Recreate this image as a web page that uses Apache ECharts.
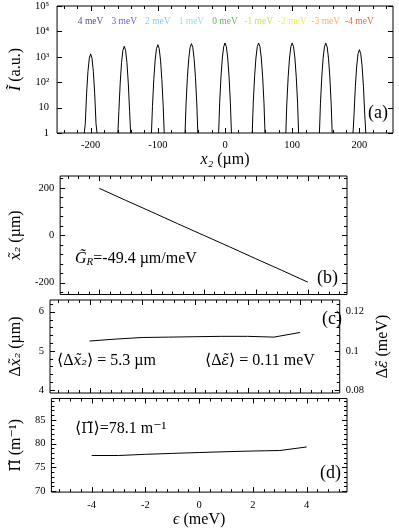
<!DOCTYPE html>
<html>
<head>
<meta charset="utf-8">
<script src="https://cdn.jsdelivr.net/npm/echarts@6/dist/echarts.min.js"></script>
<style>
  html, body { margin: 0; padding: 0; background: #fff; }
  #chart { width: 399px; height: 529px; }
</style>
</head>
<body>
<div id="chart"></div>
<script>
// panel (a): spectra of the pulses, one peak per energy
const peakCenters = [-200, -150, -100, -50, 0, 50, 100, 150, 200];
const peakNames = ['4 meV', '3 meV', '2 meV', '1 meV', '0 meV', '-1 meV', '-2 meV', '-3 meV', '-4 meV'];
const peakOffsets = [-9.5, -8, -6, -4, -2, 0, 2, 4, 6, 8, 9.5];
const peakValues = [
  [1, 2.3, 37, 267, 875, 1300, 875, 267, 37, 2.3, 1],
  [1, 7.2, 94, 595, 1800, 2600, 1800, 595, 94, 7.2, 1],
  [1, 11, 129, 740, 2115, 3000, 2115, 740, 129, 11, 1],
  [1, 14, 154, 845, 2346, 3300, 2346, 845, 154, 14, 1],
  [1, 15, 163, 896, 2489, 3500, 2489, 896, 163, 15, 1],
  [1, 15, 163, 896, 2489, 3500, 2489, 896, 163, 15, 1],
  [1, 15, 163, 896, 2489, 3500, 2489, 896, 163, 15, 1],
  [1, 14, 160, 880, 2450, 3450, 2450, 880, 160, 14, 1],
  [1, 5.2, 69, 435, 1315, 1900, 1315, 435, 69, 5.2, 1]
];
const peakColors = ['#22227a', '#3838c8', '#6fb8ff', '#70e0e0', '#3aa83a', '#b2e02a', '#e8e820', '#ff9a30', '#ee3a18'];

// panels (b)-(d): versus energy
const energy = [-4, -3, -2, -1, 0, 1, 2, 3, 4];
const shiftX = [198, 148, 99, 49, 0, -49, -99, -148, -198];
const widthX = [5.25, 5.30, 5.34, 5.35, 5.36, 5.37, 5.37, 5.35, 5.47];
const piValues = [77.5, 77.5, 77.75, 77.95, 78.13, 78.3, 78.45, 78.55, 79.3];

// tick labels
const xTicksA = [-200, -100, 0, 100, 200];
const yTicksA = [1, 10, 100, 1000, 10000, 100000];
const xTicksE = [-4, -2, 0, 2, 4];
const yTicksB = [-200, 0, 200];
const yTicksC = [4, 5, 6];
const yTicksCR = [0.08, 0.1, 0.12];
const yTicksD = [70, 75, 80, 85];

const FONT = '"Liberation Serif", "DejaVu Serif", serif';
const TFONT = '"DejaVu Serif", serif';

function minors(lo, hi, step, majors) {
  const out = [];
  const start = Math.ceil(lo / step - 1e-9) * step;
  const n = Math.floor((hi - start) / step + 1e-9);
  for (let i = 0; i <= n; i++) {
    const v = +(start + i * step).toFixed(6);
    if (!majors.some(m => Math.abs(m - v) < 1e-9)) out.push(v);
  }
  return out;
}

const richName = {
  i: { fontStyle: 'italic', fontFamily: FONT, fontSize: 16 },
  t: { fontStyle: 'italic', fontFamily: TFONT, fontSize: 14 },
  u: { fontFamily: TFONT, fontSize: 14 }
};
const nameStyle = { color: '#000', fontFamily: FONT, fontSize: 16, rich: richName };

function valAxis(grid, pos, min, max, labels, extra) {
  return Object.assign({
    type: 'value', gridIndex: grid, position: pos, min: min, max: max,
    axisLine: { show: false, onZero: false },
    splitLine: { show: false },
    axisTick: { show: false },
    axisLabel: labels ? { show: true, customValues: labels, color: '#000',
      fontFamily: FONT, fontSize: 10.5, margin: 6 } : { show: false }
  }, extra || {});
}

const supDigits = ['\u2070', '\u00b9', '\u00b2', '\u00b3', '\u2074', '\u2075'];
const xRangeA = [-250, 250], yRangeA = [1, 100000];
const xRangeE = [-5.5, 5.5];
const yRangeB = [-250, 250], yRangeC = [3.92, 6.3], yRangeCR = [0.0784, 0.126], yRangeD = [69.8, 89.5];
const grids = [
  { left: 50, top: 6, width: 343, height: 127 },
  { left: 50, top: 176, width: 297, height: 118.5 },
  { left: 50, top: 300, width: 297, height: 93 },
  { left: 50, top: 398.5, width: 297, height: 94.5 }
];

const xAxes = [
  valAxis(0, 'bottom', xRangeA[0], xRangeA[1], xTicksA, {
    name: '{i|x\u2082} (\u00b5m)', nameLocation: 'middle', nameGap: 18, nameTextStyle: nameStyle }),
  valAxis(1, 'bottom', xRangeE[0], xRangeE[1], null),
  valAxis(2, 'bottom', xRangeE[0], xRangeE[1], null),
  valAxis(3, 'bottom', xRangeE[0], xRangeE[1], xTicksE, {
    name: '{i|\u03f5} (meV)', nameLocation: 'middle', nameGap: 16, nameTextStyle: nameStyle })
];
xAxes[0].axisLabel.margin = 7;
xAxes[3].axisLabel.margin = 8;

const yAxes = [
  {
    type: 'log', logBase: 10, gridIndex: 0, position: 'left', min: yRangeA[0], max: yRangeA[1],
    axisLine: { show: false, onZero: false }, splitLine: { show: false }, axisTick: { show: false },
    axisLabel: { show: true, color: '#000', fontFamily: FONT, fontSize: 10.5, margin: 8,
      formatter: v => { const e = Math.round(Math.log10(v)); return e === 0 ? '1' : e === 1 ? '10' : '10' + supDigits[e]; } },
    name: '{i|\u0128} (a.u.)', nameLocation: 'middle', nameGap: 28, nameTextStyle: nameStyle
  },
  valAxis(1, 'left', yRangeB[0], yRangeB[1], yTicksB, {
    name: '{t|x\u0303\u2082} (\u00b5m)', nameLocation: 'middle', nameGap: 24, nameTextStyle: nameStyle }),
  valAxis(2, 'left', yRangeC[0], yRangeC[1], yTicksC, {
    name: '\u0394{t|x\u0303\u2082} (\u00b5m)', nameLocation: 'middle', nameGap: 26, nameTextStyle: nameStyle }),
  valAxis(2, 'right', yRangeCR[0], yRangeCR[1], yTicksCR, {
    name: '\u0394{t|\u03b5\u0303} (meV)', nameLocation: 'middle', nameGap: 30, nameRotate: 90, nameTextStyle: nameStyle }),
  valAxis(3, 'left', yRangeD[0], yRangeD[1], yTicksD, {
    name: '{u|\u03a0\u0303} (m\u207b\u00b9)', nameLocation: 'middle', nameGap: 27, nameTextStyle: nameStyle })
];

const series = [];
peakCenters.forEach((c, i) => {
  series.push({
    type: 'line', xAxisIndex: 0, yAxisIndex: 0, symbol: 'none', silent: true,
    lineStyle: { color: '#000', width: 1 },
    data: peakOffsets.map((o, j) => [c + o, peakValues[i][j]])
  });
});
series.push({
  type: 'scatter', xAxisIndex: 0, yAxisIndex: 0, symbolSize: 0.1, silent: true,
  label: { show: true, position: 'inside', fontFamily: FONT, fontSize: 9.5,
    formatter: p => peakNames[p.dataIndex] },
  data: peakCenters.map((c, i) => ({ value: [c, 24500], label: { color: peakColors[i] } }))
});
series.push({
  type: 'line', xAxisIndex: 1, yAxisIndex: 1, symbol: 'none', silent: true,
  lineStyle: { color: '#000', width: 1 },
  data: energy.map((e, i) => [e, shiftX[i]])
});
series.push({
  type: 'line', xAxisIndex: 2, yAxisIndex: 2, symbol: 'none', silent: true,
  lineStyle: { color: '#000', width: 1 },
  data: energy.map((e, i) => [e, widthX[i]])
});
series.push({
  type: 'line', xAxisIndex: 3, yAxisIndex: 4, symbol: 'none', silent: true,
  lineStyle: { color: '#000', width: 1 },
  data: energy.map((e, i) => [e, piValues[i]])
});

const gridBox = { show: true, borderColor: '#000', borderWidth: 1, backgroundColor: 'transparent', containLabel: false };

function note(left, top, text, size, rich) {
  return { type: 'text', left: left, top: top, z: 10,
    style: { text: text, fill: '#000', fontFamily: FONT, fontSize: size, rich: rich || {} } };
}
const richI = {
  i: { fontStyle: 'italic', fontFamily: FONT, fontSize: 16 },
  t: { fontStyle: 'italic', fontFamily: TFONT, fontSize: 14 },
  u: { fontFamily: TFONT, fontSize: 14 },
  s: { fontStyle: 'italic', fontFamily: FONT, fontSize: 11, padding: [6, 0, 0, 0] }
};
const notes = [
  note(368, 104, '(a)', 18),
  note(317, 269, '(b)', 18),
  note(322, 310, '(c)', 18),
  note(320, 464, '(d)', 18),
  note(75, 251, '{i|G\u0303}{s|R}=-49.4 \u00b5m/meV', 16, richI),
  note(57, 353, '\u27e8\u0394{t|x\u0303\u2082}\u27e9 = 5.3 \u00b5m', 16, richI),
  note(205, 353, '\u27e8\u0394{t|\u03b5\u0303}\u27e9 = 0.11 meV', 16, richI),
  note(75, 421, '\u27e8{u|\u03a0\u0303}\u27e9=78.1 m\u207b\u00b9', 16, richI)
];

const chart = echarts.init(document.getElementById('chart'), null, { renderer: 'canvas' });
chart.setOption({
  animation: false,
  backgroundColor: '#fff',
  grid: grids.map(g => Object.assign({}, g, gridBox)),
  xAxis: xAxes,
  yAxis: yAxes,
  series: series,
  graphic: notes
});

// inward frame ticks, placed through the axes' scales
const tickSets = [
  { xi: 0, yi: 0, xr: xRangeA, yr: yRangeA, sides: [
    { side: 0, major: xTicksA, minor: minors(xRangeA[0], xRangeA[1], 20, xTicksA) },
    { side: 1, major: xTicksA, minor: minors(xRangeA[0], xRangeA[1], 20, xTicksA) },
    { side: 2, major: yTicksA, minor: [] }, { side: 3, major: yTicksA, minor: [] } ] },
  { xi: 1, yi: 1, xr: xRangeE, yr: yRangeB, sides: [
    { side: 0, major: xTicksE, minor: minors(xRangeE[0], xRangeE[1], 0.4, xTicksE) },
    { side: 1, major: xTicksE, minor: minors(xRangeE[0], xRangeE[1], 0.4, xTicksE) },
    { side: 2, major: yTicksB, minor: minors(yRangeB[0], yRangeB[1], 40, yTicksB) },
    { side: 3, major: yTicksB, minor: minors(yRangeB[0], yRangeB[1], 40, yTicksB) } ] },
  { xi: 2, yi: 2, xr: xRangeE, yr: yRangeC, sides: [
    { side: 0, major: xTicksE, minor: minors(xRangeE[0], xRangeE[1], 0.4, xTicksE) },
    { side: 1, major: xTicksE, minor: minors(xRangeE[0], xRangeE[1], 0.4, xTicksE) },
    { side: 2, major: yTicksC, minor: minors(yRangeC[0], yRangeC[1], 0.2, yTicksC) } ] },
  { xi: 2, yi: 3, xr: xRangeE, yr: yRangeCR, sides: [
    { side: 3, major: yTicksCR, minor: minors(yRangeCR[0], yRangeCR[1], 0.004, yTicksCR) } ] },
  { xi: 3, yi: 4, xr: xRangeE, yr: yRangeD, sides: [
    { side: 0, major: xTicksE, minor: minors(xRangeE[0], xRangeE[1], 0.4, xTicksE) },
    { side: 1, major: xTicksE, minor: minors(xRangeE[0], xRangeE[1], 0.4, xTicksE) },
    { side: 2, major: yTicksD, minor: minors(yRangeD[0], yRangeD[1], 1, yTicksD) },
    { side: 3, major: yTicksD, minor: minors(yRangeD[0], yRangeD[1], 1, yTicksD) } ] }
];

const tickMarks = [];
tickSets.forEach(t => {
  const finder = { xAxisIndex: t.xi, yAxisIndex: t.yi };
  t.sides.forEach(s => {
    [[s.major, 5], [s.minor, 3]].forEach(pair => {
      const len = pair[1];
      pair[0].forEach(v => {
        let p, d;
        if (s.side === 0) { p = chart.convertToPixel(finder, [v, t.yr[0]]); d = [0, -len]; }
        else if (s.side === 1) { p = chart.convertToPixel(finder, [v, t.yr[1]]); d = [0, len]; }
        else if (s.side === 2) { p = chart.convertToPixel(finder, [t.xr[0], v]); d = [len, 0]; }
        else { p = chart.convertToPixel(finder, [t.xr[1], v]); d = [-len, 0]; }
        if (!p || isNaN(p[0]) || isNaN(p[1])) return;
        const x = d[0] === 0 ? Math.round(p[0]) + 0.5 : p[0];
        const y = d[1] === 0 ? Math.round(p[1]) + 0.5 : p[1];
        tickMarks.push({ type: 'line', z: 20, silent: true,
          shape: { x1: x, y1: y, x2: x + d[0], y2: y + d[1] },
          style: { stroke: '#000', lineWidth: 1 } });
      });
    });
  });
});
chart.setOption({ graphic: notes.concat(tickMarks) });
</script>
</body>
</html>
